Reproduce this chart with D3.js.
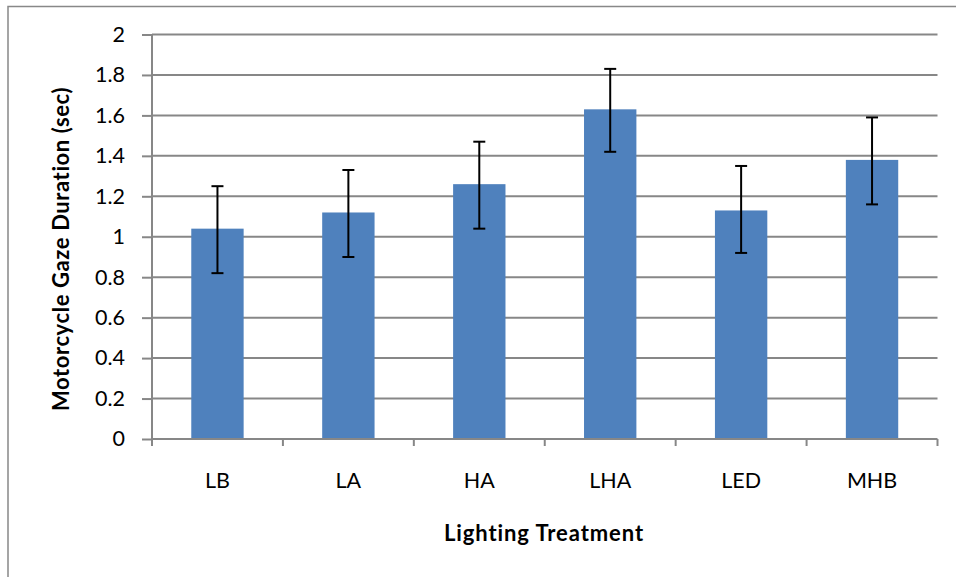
<!DOCTYPE html>
<html>
<head>
<meta charset="utf-8">
<script src="https://cdn.jsdelivr.net/npm/d3@7"></script>
<style>
  body { margin: 0; background: #fff; }
  svg { display: block; }
  text { font-family: Lato, "Open Sans", sans-serif; fill: #000; }
</style>
</head>
<body>
<svg id="chart" width="956" height="577"></svg>
<script>
const categories = ["LB", "LA", "HA", "LHA", "LED", "MHB"];
const values     = [1.04, 1.12, 1.26, 1.63, 1.13, 1.38];
const errLow     = [0.82, 0.90, 1.04, 1.42, 0.92, 1.16];
const errHigh    = [1.25, 1.33, 1.47, 1.83, 1.35, 1.59];
const yTicks     = [0, 0.2, 0.4, 0.6, 0.8, 1, 1.2, 1.4, 1.6, 1.8, 2];
const yTitle = "Motorcycle Gaze Duration (sec)";
const xTitle = "Lighting Treatment";

const svg = d3.select("#chart");
const m = { left: 152, right: 937.5, top: 34.5, bottom: 439 };

// outer chart frame
svg.append("rect")
  .attr("x", 8).attr("y", 6.5).attr("width", 960).attr("height", 600)
  .attr("fill", "none").attr("stroke", "#888").attr("stroke-width", 1.5);

const x = d3.scaleBand().domain(categories).range([m.left, m.right]).padding(0);
const y = d3.scaleLinear().domain([0, 2]).range([m.bottom, m.top]);

// gridlines
svg.append("g").selectAll("line").data(yTicks.slice(1)).join("line")
  .attr("x1", m.left).attr("x2", m.right)
  .attr("y1", d => y(d)).attr("y2", d => y(d))
  .attr("stroke", "#878787").attr("stroke-width", 2);

// y axis
const yAxis = svg.append("g").attr("transform", `translate(${m.left},0)`)
  .call(d3.axisLeft(y).tickValues(yTicks).tickSize(10).tickPadding(17)
    .tickFormat(d => d3.format("")(+d.toFixed(1))));
yAxis.select(".domain").attr("stroke", "#878787").attr("stroke-width", 2)
  .attr("d", `M0,${m.bottom}V${m.top}`);
yAxis.selectAll(".tick line").attr("stroke", "#878787").attr("stroke-width", 2);
yAxis.selectAll(".tick text").attr("font-size", 21.5).attr("font-family", "Lato, sans-serif").attr("fill", "#000");

// bars
const bw = x.bandwidth() * 0.4;
svg.append("g").selectAll("rect").data(categories).join("rect")
  .attr("x", (d) => x(d) + x.bandwidth() / 2 - bw / 2)
  .attr("y", (d, i) => y(values[i]))
  .attr("width", bw)
  .attr("height", (d, i) => y(0) - y(values[i]))
  .attr("fill", "#4F81BD");

// x axis
const xAxis = svg.append("g").attr("transform", `translate(0,${m.bottom})`)
  .call(d3.axisBottom(x).tickSize(0).tickPadding(34));
xAxis.select(".domain").attr("stroke", "#878787").attr("stroke-width", 2)
  .attr("d", `M${m.left},0H${m.right}`);
xAxis.selectAll(".tick text").attr("font-size", 21.5).attr("font-family", "Lato, sans-serif").attr("fill", "#000");
// category separator ticks
const sepPos = categories.map(c => x(c)).concat([m.right]);
svg.append("g").selectAll("line").data(sepPos).join("line")
  .attr("x1", d => d).attr("x2", d => d)
  .attr("y1", m.bottom).attr("y2", m.bottom + 7)
  .attr("stroke", "#878787").attr("stroke-width", 2);

// error bars
const eg = svg.append("g").attr("stroke", "#000").attr("stroke-width", 2);
categories.forEach((c, i) => {
  const cx = x(c) + x.bandwidth() / 2;
  eg.append("line").attr("x1", cx).attr("x2", cx).attr("y1", y(errLow[i])).attr("y2", y(errHigh[i]));
  eg.append("line").attr("x1", cx - 6).attr("x2", cx + 6).attr("y1", y(errLow[i])).attr("y2", y(errLow[i]));
  eg.append("line").attr("x1", cx - 6).attr("x2", cx + 6).attr("y1", y(errHigh[i])).attr("y2", y(errHigh[i]));
});

// titles
svg.append("text").attr("x", 544).attr("y", 541)
  .attr("text-anchor", "middle").attr("font-size", 22).attr("font-weight", "bold")
  .attr("letter-spacing", 0.9)
  .text(xTitle);
svg.append("text")
  .attr("transform", `translate(69,249) rotate(-90)`)
  .attr("text-anchor", "middle").attr("font-size", 22).attr("font-weight", "bold")
  .attr("letter-spacing", 0.6)
  .text(yTitle);
</script>
</body>
</html>
